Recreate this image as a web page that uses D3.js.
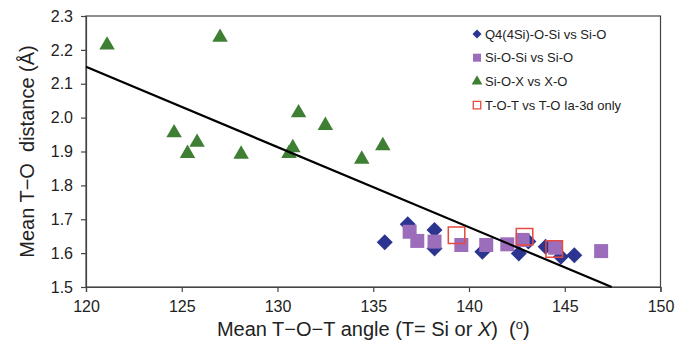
<!DOCTYPE html>
<html>
<head>
<meta charset="utf-8">
<script src="https://cdn.jsdelivr.net/npm/d3@7"></script>
<style>
  body { margin: 0; background: #fff; }
  svg { display: block; font-family: "Liberation Sans", Arial, sans-serif; }
</style>
</head>
<body>
<div id="viz"><svg></svg></div>
<script>
const SETTINGS = {
    width: 677,
    height: 343,
    margin: { top: 16, right: 16, bottom: 56, left: 86 },
    tickFont: 16,
    titleFont: 20,
    legendFont: 13
};
const COLOR = {
    q4: '#2b3590',
    sios: '#9c6dba',
    siox: '#3f7f34',
    tot: '#e5493f',
    axis: '#444'
};

// axis ticks
const xTicks = [120, 125, 130, 135, 140, 145, 150];
const yTicks = [1.5, 1.6, 1.7, 1.8, 1.9, 2.0, 2.1, 2.2, 2.3];

// Q4(4Si)-O-Si vs Si-O
const q4Angle = [135.6, 136.8, 138.2, 138.2, 140.7, 142.6, 143.1, 144.0, 144.8, 145.5];
const q4Dist  = [1.632, 1.685, 1.668, 1.614, 1.604, 1.599, 1.634, 1.619, 1.589, 1.594];
// Si-O-Si vs Si-O
const siosAngle = [136.9, 137.3, 138.2, 139.6, 140.9, 142.0, 142.8, 144.5, 146.9];
const siosDist  = [1.663, 1.636, 1.634, 1.624, 1.624, 1.626, 1.639, 1.616, 1.606];
// Si-O-X vs X-O
const sioxAngle = [121.1, 127.0, 124.6, 125.3, 125.8, 128.1, 130.6, 130.8, 131.1, 132.5, 134.4, 135.5];
const sioxDist  = [2.214, 2.237, 1.955, 1.894, 1.927, 1.892, 1.894, 1.911, 2.014, 1.977, 1.877, 1.917];
// T-O-T vs T-O Ia-3d only
const totAngle = [139.35, 142.9, 144.45];
const totDist  = [1.653, 1.648, 1.612];
// trend line end points
const trendAngle = [120, 147.45];
const trendDist  = [2.15, 1.5];

const legendLabels = ['Q4(4Si)-O-Si vs Si-O', 'Si-O-Si vs Si-O', 'Si-O-X vs X-O', 'T-O-T vs T-O Ia-3d only'];

const zip = (a, b) => a.map((d, i) => [d, b[i]]);

let svg = d3.select('#viz').select('svg')
    .attr('width', SETTINGS.width)
    .attr('height', SETTINGS.height);

const m = SETTINGS.margin;
let xScale = d3.scaleLinear().domain([120, 150]).range([m.left, SETTINGS.width - m.right - 0.5]);
let yScale = d3.scaleLinear().domain([1.5, 2.3]).range([SETTINGS.height - m.bottom, m.top]);

// frame
svg.append('rect')
    .attr('x', xScale(120))
    .attr('y', yScale(2.3))
    .attr('width', xScale(150) - xScale(120))
    .attr('height', yScale(1.5) - yScale(2.3))
    .attr('fill', 'none')
    .attr('stroke', COLOR.axis)
    .attr('stroke-width', 1.2);

let xAxis = svg.append('g')
    .attr('transform', `translate(0,${yScale(1.5)})`)
    .call(d3.axisBottom(xScale).tickValues(xTicks).tickSize(5).tickPadding(9).tickFormat(d3.format('d')));
let yAxis = svg.append('g')
    .attr('transform', `translate(${xScale(120)},0)`)
    .call(d3.axisLeft(yScale).tickValues(yTicks).tickSize(5).tickPadding(8).tickFormat(d3.format('.1f')));

[xAxis, yAxis].forEach(g => {
    g.select('.domain').attr('stroke', COLOR.axis).attr('stroke-width', 1.2);
    g.selectAll('.tick line').attr('stroke', COLOR.axis).attr('stroke-width', 1.2);
    g.selectAll('.tick text')
        .attr('font-size', SETTINGS.tickFont)
        .attr('font-family', '"Liberation Sans", Arial, sans-serif')
        .attr('fill', '#222');
});

// markers
const diamond = d3.symbol().type(d3.symbolSquare).size(128);
const square = d3.symbol().type(d3.symbolSquare).size(196);
const openSquare = d3.symbol().type(d3.symbolSquare).size(272);
const triangle = d3.symbol().type(d3.symbolTriangle).size(104);

let plot = svg.append('g');

plot.selectAll('.q4')
    .data(zip(q4Angle, q4Dist))
    .enter()
    .append('path')
    .attr('class', 'q4')
    .attr('d', diamond)
    .attr('transform', d => `translate(${xScale(d[0])},${yScale(d[1])}) rotate(45)`)
    .attr('fill', COLOR.q4);

plot.selectAll('.sios')
    .data(zip(siosAngle, siosDist))
    .enter()
    .append('path')
    .attr('class', 'sios')
    .attr('d', square)
    .attr('transform', d => `translate(${xScale(d[0])},${yScale(d[1])})`)
    .attr('fill', COLOR.sios);

plot.selectAll('.siox')
    .data(zip(sioxAngle, sioxDist))
    .enter()
    .append('path')
    .attr('class', 'siox')
    .attr('d', triangle)
    .attr('transform', d => `translate(${xScale(d[0])},${yScale(d[1])})`)
    .attr('fill', COLOR.siox);

plot.selectAll('.tot')
    .data(zip(totAngle, totDist))
    .enter()
    .append('path')
    .attr('class', 'tot')
    .attr('d', openSquare)
    .attr('transform', d => `translate(${xScale(d[0])},${yScale(d[1])})`)
    .attr('fill', 'none')
    .attr('stroke', COLOR.tot)
    .attr('stroke-width', 1.5);

plot.append('path')
    .datum(zip(trendAngle, trendDist))
    .attr('d', d3.line().x(d => xScale(d[0])).y(d => yScale(d[1])))
    .attr('fill', 'none')
    .attr('stroke', '#000')
    .attr('stroke-width', 2.2);

// legend
const legendSymbols = [
    { sym: d3.symbol().type(d3.symbolSquare).size(40), rot: 45, fill: COLOR.q4, stroke: 'none' },
    { sym: d3.symbol().type(d3.symbolSquare).size(64), rot: 0, fill: COLOR.sios, stroke: 'none' },
    { sym: d3.symbol().type(d3.symbolTriangle).size(50), rot: 0, fill: COLOR.siox, stroke: 'none' },
    { sym: d3.symbol().type(d3.symbolSquare).size(56), rot: 0, fill: 'none', stroke: COLOR.tot }
];
let legend = svg.append('g').attr('transform', 'translate(477,34)');
legendLabels.forEach((label, i) => {
    let row = legend.append('g').attr('transform', `translate(0,${i * 23.7})`);
    let s = legendSymbols[i];
    row.append('path')
        .attr('d', s.sym)
        .attr('transform', `rotate(${s.rot})`)
        .attr('fill', s.fill)
        .attr('stroke', s.stroke)
        .attr('stroke-width', 1.3);
    row.append('text')
        .attr('x', 8)
        .attr('dy', '0.35em')
        .attr('font-size', SETTINGS.legendFont)
        .attr('fill', '#222')
        .text(label);
});

// axis titles
let xTitle = svg.append('text')
    .attr('x', (xScale(120) + xScale(150)) / 2)
    .attr('y', 336)
    .attr('text-anchor', 'middle')
    .attr('font-size', SETTINGS.titleFont)
    .attr('fill', '#222')
    .style('white-space', 'pre');
xTitle.append('tspan').text('Mean T\u2212O\u2212T angle (T= Si or ');
xTitle.append('tspan').attr('font-style', 'italic').text('X');
xTitle.append('tspan').text(')  (');
xTitle.append('tspan').attr('font-size', 13).attr('dy', -7).text('o');
xTitle.append('tspan').attr('dy', 7).text(')');

svg.append('text')
    .attr('transform', `translate(34,${(yScale(1.5) + yScale(2.3)) / 2}) rotate(-90)`)
    .attr('text-anchor', 'middle')
    .attr('font-size', SETTINGS.titleFont)
    .attr('fill', '#222')
    .style('white-space', 'pre')
    .text('Mean T\u2212O  distance (\u00c5)');
</script>
</body>
</html>
